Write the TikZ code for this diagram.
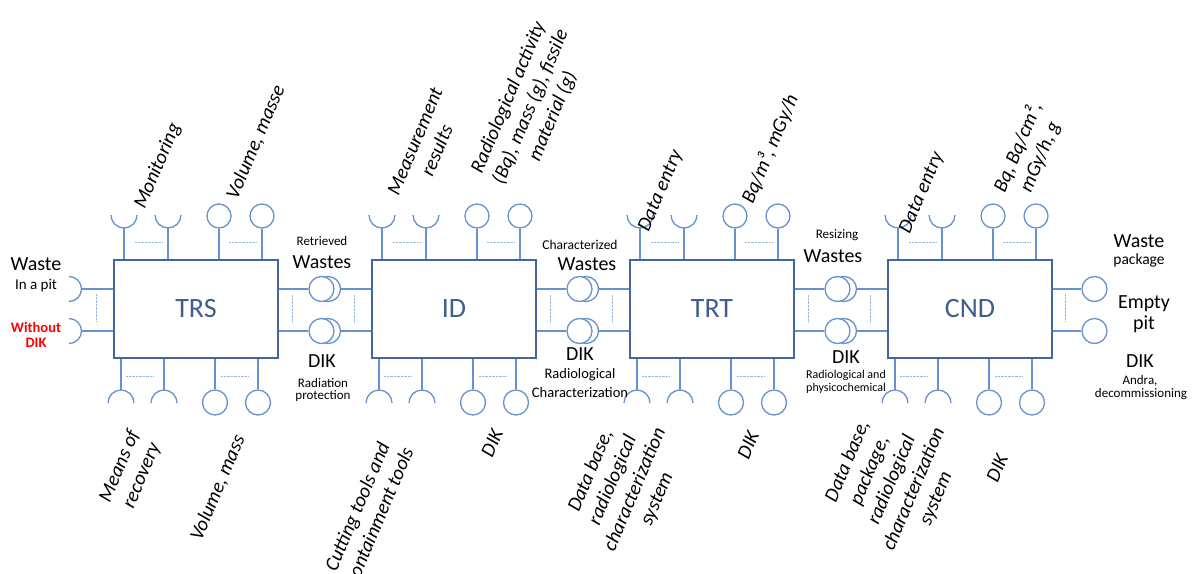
\documentclass[tikz,border=0pt]{standalone}
\usepackage{fontspec}
\setmainfont{Carlito}
\definecolor{connc}{RGB}{104,146,206}
\definecolor{boxc}{RGB}{66,103,160}
\definecolor{dotc}{RGB}{150,182,226}
\definecolor{labc}{RGB}{62,94,142}
\tikzset{
  conn/.style={draw=connc,line width=1.4pt},
  boxn/.style={draw=boxc,line width=1.4pt,minimum width=164pt,minimum height=98pt,inner sep=0pt,font=\fontsize{28}{30}\selectfont,text=labc},
  ball/.style={circle,draw=connc,line width=1.3pt,fill=white,minimum size=25pt,inner sep=0pt},
  dotl/.style={draw=dotc,line width=0.8pt,dash pattern=on 1pt off 0.4pt},
  big/.style={font=\fontsize{20}{24}\selectfont,inner sep=0pt,anchor=base},
  sml/.style={font=\fontsize{13}{15}\selectfont,inner sep=0pt,anchor=base},
  redl/.style={font=\fontsize{14.5}{16}\selectfont\bfseries,text=red,inner sep=0pt,anchor=base},
  rlab/.style={font=\fontsize{20}{24}\selectfont\itshape,rotate=67,align=center,inner sep=0pt},
  cupup/.pic={\draw[conn,line width=1.3pt] (-13,0) .. controls (-13,7.18) and (-7.18,13) .. (0,13) .. controls (7.18,13) and (13,7.18) .. (13,0);},
  capdown/.pic={\draw[conn,line width=1.3pt] (-13,0) .. controls (-13,-7.18) and (-7.18,-13) .. (0,-13) .. controls (7.18,-13) and (13,-7.18) .. (13,0);},
  sockright/.pic={\draw[conn,line width=1.3pt] (0,-12.5) .. controls (6.9,-12.5) and (12.5,-6.9) .. (12.5,0) .. controls (12.5,6.9) and (6.9,12.5) .. (0,12.5);}
}
\begin{document}
\begin{tikzpicture}[x=1pt,y=-1pt]
\useasboundingbox (0,0) rectangle (1193,573);
% boxes with their top and bottom stubs
\foreach \lx/\nm/\tx in {114/trs/TRS,372/id/ID,630/trt/TRT,888/cnd/CND}{
  \node[boxn] (\nm) at (\lx+82,309) {\tx};
  \foreach \d/\k in {10/1,54/2}{
    \pic at (\lx+\d,215) {cupup};
    \coordinate (\nm-ts\k) at (\lx+\d,228);
    \draw[conn] (\nm-ts\k) -- (\nm.north -| \nm-ts\k);
  }
  \foreach \d/\k in {105/1,148/2}{
    \node[ball,minimum size=24pt] (\nm-tb\k) at (\lx+\d,216) {};
    \draw[conn] (\nm-tb\k) -- (\nm.north -| \nm-tb\k);
  }
  \foreach \d/\k in {7/1,50/2}{
    \pic at (\lx+\d,403) {capdown};
    \coordinate (\nm-bs\k) at (\lx+\d,390);
    \draw[conn] (\nm-bs\k) -- (\nm.south -| \nm-bs\k);
  }
  \foreach \d/\k in {101/1,144/2}{
    \node[ball] (\nm-bb\k) at (\lx+\d,402.5) {};
    \draw[conn] (\nm-bb\k) -- (\nm.south -| \nm-bb\k);
  }
  \draw[dotl] (\lx+21,242) -- (\lx+49,242);
  \draw[dotl] (\lx+115,242) -- (\lx+143,242);
  \draw[dotl] (\lx+12,376) -- (\lx+39,376);
  \draw[dotl] (\lx+107,376) -- (\lx+134,376);
}
% links between boxes
\foreach \rx/\a/\b in {278/trs/id,536/id/trt,794/trt/cnd}{
  \foreach \y/\k in {289/1,331/2}{
    \node[ball] (\a-g\k b) at (\rx+50,\y) {};
    \node[ball] (\a-g\k) at (\rx+43.5,\y) {};
    \draw[conn] (\a.east |- \a-g\k) -- (\a-g\k);
    \draw[conn] (\a-g\k b) -- (\b.west |- \a-g\k b);
  }
  \draw[dotl] (\rx+14,295) -- (\rx+14,322);
  \draw[dotl] (\rx+76,295) -- (\rx+76,322);
}
% left of TRS
\foreach \y/\k in {289/1,331/2}{
  \pic at (69,\y) {sockright};
  \coordinate (in\k) at (81.5,\y);
  \draw[conn] (in\k) -- (trs.west |- in\k);
}
\draw[dotl] (96,294) -- (96,322);
% right of CND
\foreach \y/\k in {289/1,331/2}{
  \node[ball] (out\k) at (1094.5,\y) {};
  \draw[conn] (cnd.east |- out\k) -- (out\k);
}
\draw[dotl] (1065,294) -- (1065,322);

% side texts
\node[big] (w1) at (36,270) {Waste};
\node[big,font=\fontsize{15}{17}\selectfont] (w2) at (36,289) {In a pit};
\node[redl] (w3) at (36,332) {Without};
\node[redl] (w4) at (36,347) {DIK};

\node[sml] (a1) at (322,245) {Retrieved};
\node[big] (a2) at (322,268) {Wastes};
\node[big] (a3) at (322,367) {DIK};
\node[sml] (a4) at (323,387) {Radiation};
\node[sml] (a5) at (323,399) {protection};

\node[sml,font=\fontsize{13.5}{15}\selectfont] (c1) at (580,249) {Characterized};
\node[big] (c2) at (587,270) {Wastes};
\node[big] (c3) at (580,360) {DIK};
\node[sml,font=\fontsize{14.5}{16}\selectfont] (c4) at (580,378) {Radiological};
\node[sml,font=\fontsize{14.5}{16}\selectfont] (c5) at (580,397) {Characterization};

\node[sml] (r1) at (837,238) {Resizing};
\node[big] (r2) at (833,262) {Wastes};
\node[big] (r3) at (846,363) {DIK};
\node[sml,font=\fontsize{12}{14}\selectfont] (r4) at (846,378) {Radiological and};
\node[sml,font=\fontsize{12}{14}\selectfont] (r5) at (846,391) {physicochemical};

\node[big] (p1) at (1139,247) {Waste};
\node[sml,font=\fontsize{15.5}{17}\selectfont] (p2) at (1139,264) {package};
\node[big] (p3) at (1144,308) {Empty};
\node[big] (p4) at (1144,329) {pit};
\node[big] (p5) at (1140,367) {DIK};
\node[sml] (p6) at (1140,384) {Andra,};
\node[sml] (p7) at (1141,397) {decommissioning};

% rotated labels, top
\node[rlab] (l1) at (158,166) {Monitoring};
\node[rlab] (l2) at (256,142) {Volume, masse};
\node[rlab] (l3) at (426,146) {Measurement\\results};
\node[rlab] (l4) at (531,107) {Radiological activity\\(Bq), mass (g), fissile\\material (g)};
\node[rlab] (l5) at (661,191) {Data entry};
\node[rlab] (l6) at (770,149) {Bq/m³, mGy/h};
\node[rlab] (l7) at (922,193) {Data entry};
\node[rlab] (l8) at (1029,152) {Bq, Bq/cm²,\\mGy/h, g};
% rotated labels, bottom
\node[rlab] (m1) at (131,471) {Means of\\recovery};
\node[rlab] (m2) at (218,488) {Volume, mass};
\node[rlab] (m3) at (368,511) {Cutting tools and\\containment tools};
\node[rlab] (m4) at (492,443) {DIK};
\node[rlab] (m5) at (624,485) {Data base,\\radiological\\characterization\\system};
\node[rlab] (m6) at (748,445) {DIK};
\node[rlab] (m7) at (892,480) {Data base,\\package,\\radiological\\characterization\\system};
\node[rlab] (m8) at (997,468) {DIK};
\end{tikzpicture}
\end{document}
